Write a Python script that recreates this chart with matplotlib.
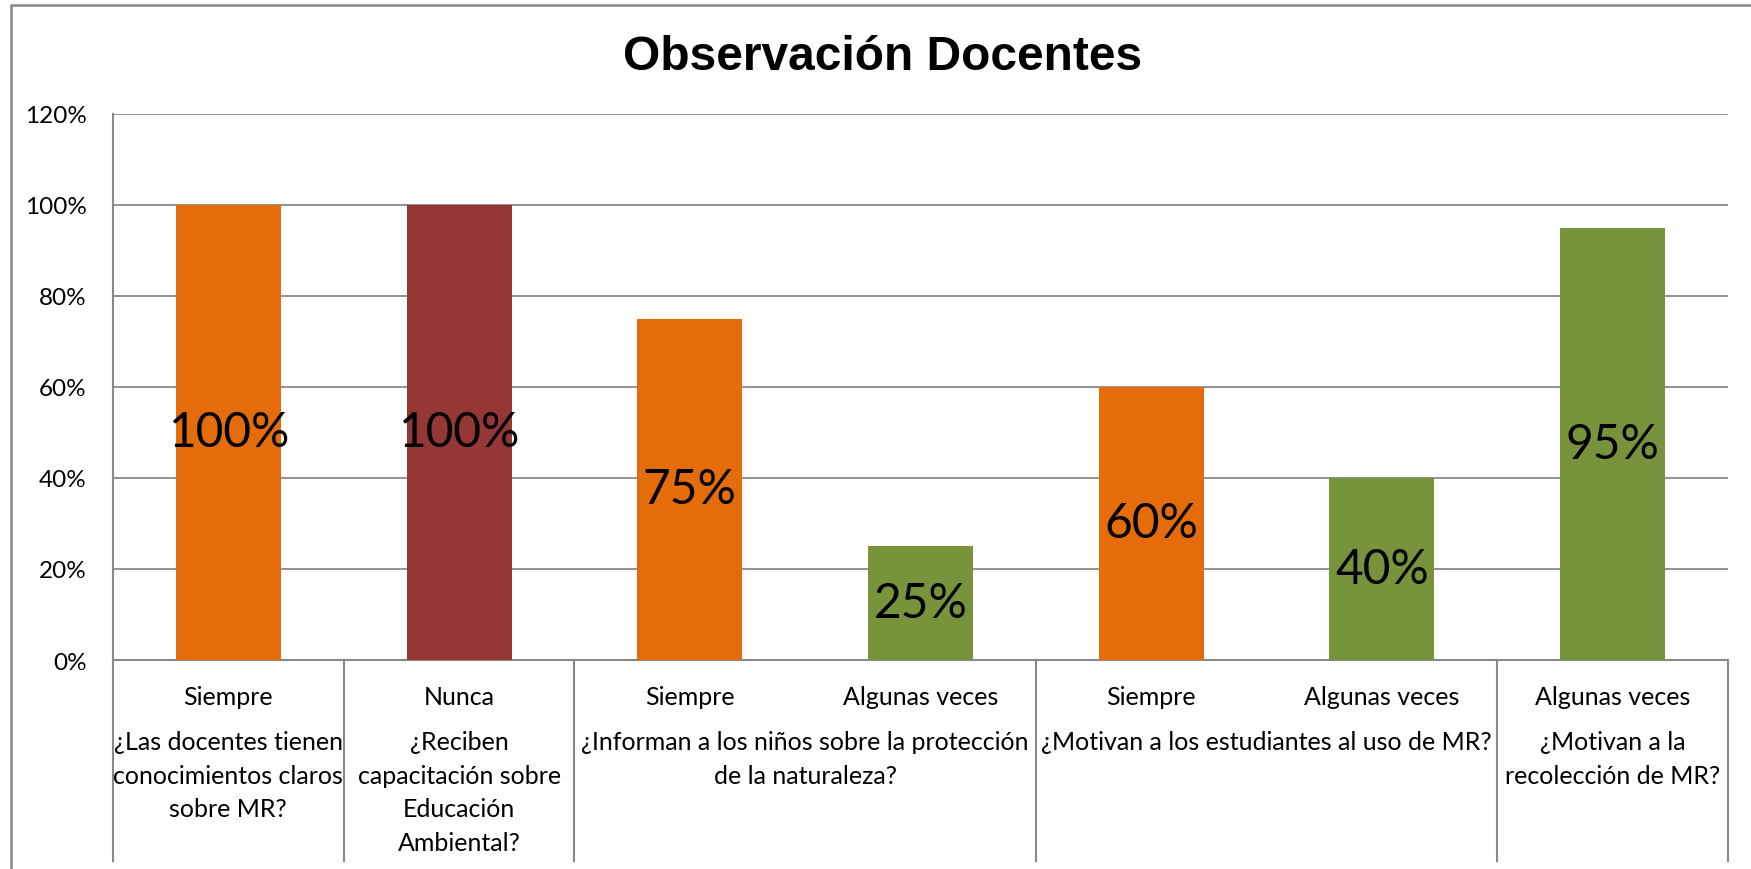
import numpy as np
import matplotlib
matplotlib.use('Agg')
import matplotlib.pyplot as plt
import matplotlib.ticker as ticker
from matplotlib.patches import Rectangle
from matplotlib.transforms import blended_transform_factory

# data
responses = ['Siempre', 'Nunca', 'Siempre', 'Algunas veces', 'Siempre', 'Algunas veces', 'Algunas veces']
values = [100, 100, 75, 25, 60, 40, 95]
questions = ['¿Las docentes tienen\nconocimientos claros\nsobre MR?',
             '¿Reciben\ncapacitación sobre\nEducación\nAmbiental?',
             '¿Informan a los niños sobre la protección\nde la naturaleza?',
             '¿Motivan a los estudiantes al uso de MR?',
             '¿Motivan a la\nrecolección de MR?']
group_sizes = [1, 1, 2, 2, 1]
y_ticks = [0, 20, 40, 60, 80, 100, 120]

colors = {'Siempre': '#E46C0A', 'Nunca': '#953735', 'Algunas veces': '#77933C'}
grid_gray = '#898989'
label_font = 'Lato'

W, H = 1751, 870
fig = plt.figure(figsize=(W / 100, H / 100), dpi=100)
ax = fig.add_axes([113 / W, 1 - 661 / H, (1728 - 113) / W, (661 - 115) / H])

x = np.arange(len(values))
ax.bar(x, values, width=0.455, color=[colors[r] for r in responses], zorder=3)
ax.set_xlim(-0.5, len(values) - 0.5)
ax.set_ylim(0, 120)

for xi, v in zip(x, values):
    ax.text(xi, v / 2, f'{v}%', ha='center', va='center', fontsize=34.5,
            family=label_font, color='black', zorder=4)

ax.set_yticks(y_ticks)
ax.yaxis.set_major_formatter(ticker.PercentFormatter(100, decimals=0))
ax.yaxis.grid(True, color=grid_gray, lw=1.3, zorder=0)
ax.set_xticks([])
ax.tick_params(axis='y', length=0, pad=19, labelsize=17.5)
for lbl in ax.get_yticklabels():
    lbl.set_family(label_font)
for s in ['top', 'right']:
    ax.spines[s].set_visible(False)
for s in ['left', 'bottom']:
    ax.spines[s].set_color(grid_gray)
    ax.spines[s].set_linewidth(1.5)

# multi-level category axis
tr = blended_transform_factory(ax.transData, ax.transAxes)
bottom = -(862 - 661) / (661 - 115)
for xi, r in zip(x, responses):
    ax.text(xi, -0.066, r, transform=tr, ha='center', va='center',
            fontsize=18, family=label_font, clip_on=False)

edges = np.concatenate([[0], np.cumsum(group_sizes)]) - 0.5
for e in edges:
    ax.plot([e, e], [0, bottom], transform=tr, color=grid_gray, lw=1.5, clip_on=False)
for q, a, b in zip(questions, edges[:-1], edges[1:]):
    ax.text((a + b) / 2, -0.129, q, transform=tr, ha='center', va='top',
            fontsize=18, family=label_font, linespacing=1.55, clip_on=False)

fig.text(883 / W, 1 - 58 / H, 'Observación Docentes', ha='center', va='center',
         fontsize=34.5, fontweight='bold', family='Liberation Sans')

# chart area border (cut off on the right and bottom like the reference)
fig.add_artist(Rectangle((11 / W, -0.2), 2, 1.2 - 6 / H, transform=fig.transFigure,
                         fill=False, edgecolor=grid_gray, lw=1.8))

fig.savefig('out.png', dpi=100)
